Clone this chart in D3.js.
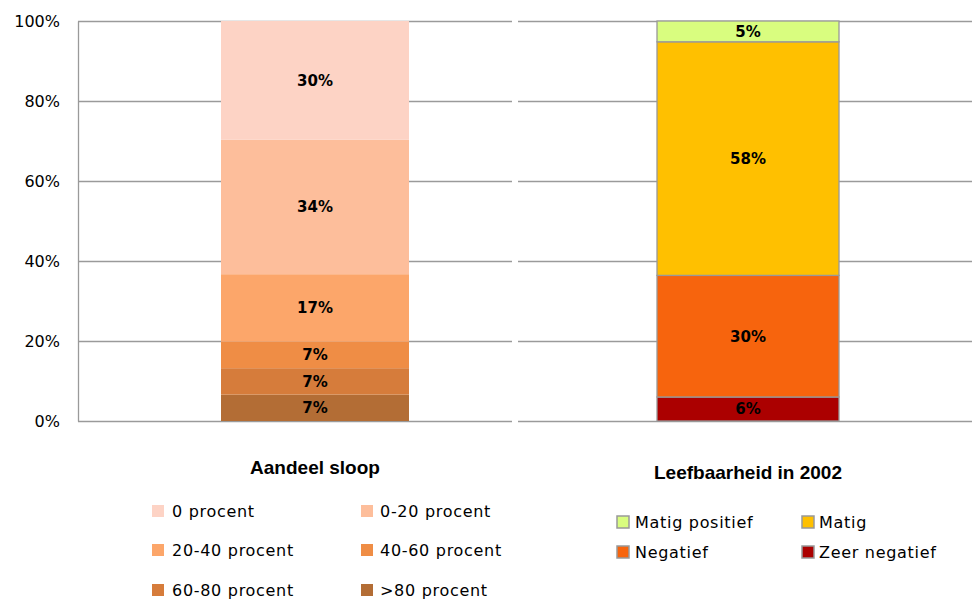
<!DOCTYPE html>
<html lang="nl">
<head>
<meta charset="UTF-8">
<title>Aandeel sloop en leefbaarheid</title>
<style>
  body { margin: 0; background: #fff; }
  svg text { fill: #000; }
</style>
</head>
<body>
<script src="https://cdn.jsdelivr.net/npm/d3@7"></script>
<script>
  // --- data ---
  let yTicks = [0, 0.2, 0.4, 0.6, 0.8, 1]

  let sloopCategory = "Aandeel sloop"
  let sloopClasses = ["0 procent", "0-20 procent", "20-40 procent", "40-60 procent", "60-80 procent", ">80 procent"]
  let sloopValues = [0.297, 0.336, 0.169, 0.066, 0.066, 0.066]
  let sloopColors = ["#fdd3c5", "#fdbe9b", "#fca66a", "#ef8d45", "#d67c3b", "#b36d35"]

  let leefCategory = "Leefbaarheid in 2002"
  let leefClasses = ["Matig positief", "Matig", "Negatief", "Zeer negatief"]
  let leefValues = [0.052, 0.584, 0.304, 0.060]
  let leefColors = ["#d9fd7f", "#ffc000", "#f7640d", "#ab0000"]

  let width = 972
  let height = 599

  let svg = d3.select("body").append("svg")
              .attr("width", width)
              .attr("height", height)

  let y = d3.scaleLinear().domain([0, 1]).range([421, 21])
  let pct = d3.format(".0%")

  // gridlines in the two panels
  let panels = [[78, 512], [518, 972]]
  panels.forEach(function(p) {
    svg.append("g")
       .attr("transform", "translate(" + p[0] + ",0)")
       .call(d3.axisLeft(y).tickValues(yTicks).tickSize(-(p[1] - p[0])).tickFormat(""))
       .call(function(g) { g.select(".domain").remove() })
       .selectAll("line").attr("stroke", "#9a9a9a").attr("stroke-width", 1.3)
  })

  // left axis
  let axis = svg.append("g")
     .attr("transform", "translate(78,0)")
     .call(d3.axisLeft(y).tickValues(yTicks).tickSize(0).tickPadding(18).tickFormat(pct))
  axis.select(".domain").attr("stroke", "#9a9a9a").attr("stroke-width", 1.3)
  axis.selectAll("text")
      .style("font-family", "DejaVu Sans, Verdana, sans-serif")
      .style("font-size", "16px")
      .attr("fill", "#222")

  function stacked(cat, classes, values, colors, range, stroke, titleY) {
    let x = d3.scaleBand().domain([cat]).range(range)
    // stack from the bottom: the last class sits at the bottom
    let order = d3.range(values.length).reverse()
    let base = 0
    let segs = order.map(function(i) {
      let s = { i: i, y0: base, y1: base + values[i] }
      base += values[i]
      return s
    })
    let g = svg.append("g")
    g.selectAll("rect")
     .data(segs)
     .enter()
     .append("rect")
     .attr("x", x(cat))
     .attr("width", x.bandwidth())
     .attr("y", function(d) { return y(d.y1) })
     .attr("height", function(d) { return y(d.y0) - y(d.y1) })
     .attr("fill", function(d) { return colors[d.i] })
     .attr("stroke", stroke ? "#999" : "none")
     .attr("stroke-width", stroke ? 1.3 : 0)
    g.selectAll("text")
     .data(segs)
     .enter()
     .append("text")
     .attr("x", x(cat) + x.bandwidth() / 2)
     .attr("y", function(d) { return y((d.y0 + d.y1) / 2) })
     .attr("dy", "0.36em")
     .attr("text-anchor", "middle")
     .style("font-family", "DejaVu Sans, Verdana, sans-serif")
     .style("font-size", "15px")
     .style("font-weight", "bold")
     .text(function(d) { return pct(values[d.i]) })
    svg.append("text")
       .attr("x", x(cat) + x.bandwidth() / 2)
       .attr("y", titleY)
       .attr("text-anchor", "middle")
       .style("font-family", "Liberation Sans Narrow, Liberation Sans, sans-serif")
       .style("font-size", "19px")
       .style("font-weight", "bold")
       .text(cat)
    return x
  }

  stacked(sloopCategory, sloopClasses, sloopValues, sloopColors, [221, 409], false, 474)
  stacked(leefCategory, leefClasses, leefValues, leefColors, [657, 839], true, 479)

  function legend(classes, colors, cols, rows, swStroke) {
    let g = svg.append("g")
    classes.forEach(function(c, i) {
      let cx = cols[i % 2]
      let cy = rows[Math.floor(i / 2)]
      g.append("rect")
       .attr("x", cx.sw).attr("y", cy - 6)
       .attr("width", 12).attr("height", 12)
       .attr("fill", colors[i])
       .attr("stroke", swStroke ? "#999" : "none")
       .attr("stroke-width", swStroke ? 1.5 : 0)
      g.append("text")
       .attr("x", cx.tx).attr("y", cy)
       .attr("dy", "0.35em")
       .style("font-family", "DejaVu Sans, Verdana, sans-serif")
       .style("font-size", "16px")
       .style("letter-spacing", "0.7px")
       .attr("fill", "#222")
       .text(c)
    })
  }

  legend(sloopClasses, sloopColors,
         [{ sw: 152, tx: 172 }, { sw: 361, tx: 380 }], [511, 550, 590], false)
  legend(leefClasses, leefColors,
         [{ sw: 617, tx: 635 }, { sw: 802, tx: 819 }], [522, 552], true)
</script>
</body>
</html>
